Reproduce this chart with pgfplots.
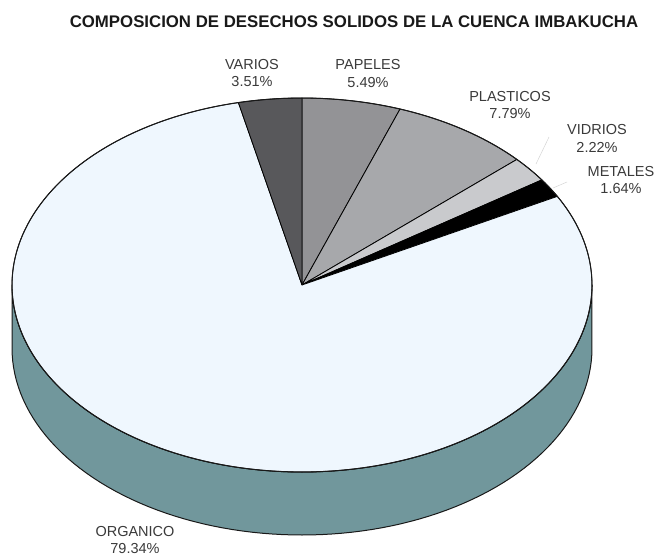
\documentclass[border=0pt]{standalone}
\usepackage{pgfplots}
\usepackage{pgfplotstable}
\pgfplotsset{compat=1.18}
\usepackage{fontspec}
\setmainfont{Liberation Sans}
\definecolor{cVar}{HTML}{58585B}
\definecolor{cPap}{HTML}{939396}
\definecolor{cPla}{HTML}{A7A8AB}
\definecolor{cVid}{HTML}{C9CACD}
\definecolor{cMet}{HTML}{000000}
\definecolor{cOrg}{HTML}{EFF7FE}
\definecolor{cSide}{HTML}{71979C}
\definecolor{cLab}{HTML}{3A3A3A}
\definecolor{cLead}{HTML}{D4D4D4}
\pgfplotstableread{
name value
PAPELES 5.49
PLASTICOS 7.79
VIDRIOS 2.22
METALES 1.64
ORGANICO 79.34
VARIOS 3.51
}\piedata
\begin{document}%
\begin{tikzpicture}
\useasboundingbox (0,0) rectangle (654pt,557pt);
\pgfmathsetmacro\cx{302}
\pgfmathsetmacro\cy{285}
\pgfmathsetmacro\rx{290}
\pgfmathsetmacro\ry{187}
\pgfmathsetmacro\dd{63}
\pgfmathsetmacro\aA{90}
\pgfplotstablegetelem{0}{value}\of\piedata \pgfmathsetmacro\aB{\aA-3.6*\pgfplotsretval}
\pgfplotstablegetelem{1}{value}\of\piedata \pgfmathsetmacro\aC{\aB-3.6*\pgfplotsretval}
\pgfplotstablegetelem{2}{value}\of\piedata \pgfmathsetmacro\aD{\aC-3.6*\pgfplotsretval}
\pgfplotstablegetelem{3}{value}\of\piedata \pgfmathsetmacro\aE{\aD-3.6*\pgfplotsretval}
\pgfplotstablegetelem{4}{value}\of\piedata \pgfmathsetmacro\aF{\aE-3.6*\pgfplotsretval}
\pgfmathsetmacro\aG{\aA-360}
\begin{axis}[
  at={(0,0)}, anchor=south west,
  scale only axis, width=654pt, height=557pt,
  xmin=0, xmax=654, ymin=0, ymax=557, y dir=reverse,
  hide axis, clip=false,
  every axis plot/.append style={line join=round},
]
\addplot[draw=none] coordinates {(0,0) (654,557)};
% side
\addplot[fill=cSide, draw=black!90, line width=1pt, domain=180:540, samples=181, variable=\t]
  ({\cx+\rx*cos(\t)}, {(\t<=360.001) ? (\cy-\ry*sin(\t)) : (\cy+\dd+\ry*sin(\t))}) -- cycle;
% slices
\addplot[fill=cPap, draw=black, line width=0.8pt, domain=\aB:\aA, samples=30, variable=\t]
  ({\cx+\rx*cos(\t)}, {\cy-\ry*sin(\t)}) -- (axis cs:\cx,\cy) -- cycle;
\addplot[fill=cPla, draw=black, line width=0.8pt, domain=\aC:\aB, samples=30, variable=\t]
  ({\cx+\rx*cos(\t)}, {\cy-\ry*sin(\t)}) -- (axis cs:\cx,\cy) -- cycle;
\addplot[fill=cVid, draw=black, line width=0.8pt, domain=\aD:\aC, samples=15, variable=\t]
  ({\cx+\rx*cos(\t)}, {\cy-\ry*sin(\t)}) -- (axis cs:\cx,\cy) -- cycle;
\addplot[fill=cMet, draw=black, line width=0.8pt, domain=\aE:\aD, samples=15, variable=\t]
  ({\cx+\rx*cos(\t)}, {\cy-\ry*sin(\t)}) -- (axis cs:\cx,\cy) -- cycle;
\addplot[fill=cOrg, draw=black, line width=0.8pt, domain=\aF:\aE, samples=200, variable=\t]
  ({\cx+\rx*cos(\t)}, {\cy-\ry*sin(\t)}) -- (axis cs:\cx,\cy) -- cycle;
\addplot[fill=cVar, draw=black, line width=0.8pt, domain=\aG:\aF, samples=20, variable=\t]
  ({\cx+\rx*cos(\t)}, {\cy-\ry*sin(\t)}) -- (axis cs:\cx,\cy) -- cycle;
% outer outline of top
\addplot[draw=black!90, line width=1pt, domain=0:360, samples=240, variable=\t]
  ({\cx+\rx*cos(\t)}, {\cy-\ry*sin(\t)});
% leader lines
\addplot[cLead, line width=0.5pt] coordinates {(549,137) (536,164)};
\addplot[cLead, line width=0.5pt] coordinates {(567,182) (553,188)};
% labels
\node[font=\bfseries\fontsize{16.8}{18}\selectfont, text=black!90] at (axis cs:354,22) {COMPOSICION DE DESECHOS SOLIDOS DE LA CUENCA IMBAKUCHA};
\tikzset{lab/.style={align=center, font=\fontsize{14.5}{17.5}\selectfont, text=cLab, inner sep=0pt}}
\node[lab] at (axis cs:252,73) {VARIOS\\3.51\%};
\node[lab] at (axis cs:368,73.5) {PAPELES\\5.49\%};
\node[lab] at (axis cs:510,105) {PLASTICOS\\7.79\%};
\node[lab] at (axis cs:597,138.5) {VIDRIOS\\2.22\%};
\node[lab] at (axis cs:621,180) {METALES\\1.64\%};
\node[lab] at (axis cs:135,540) {ORGANICO\\79.34\%};
\end{axis}
\end{tikzpicture}%
\end{document}
